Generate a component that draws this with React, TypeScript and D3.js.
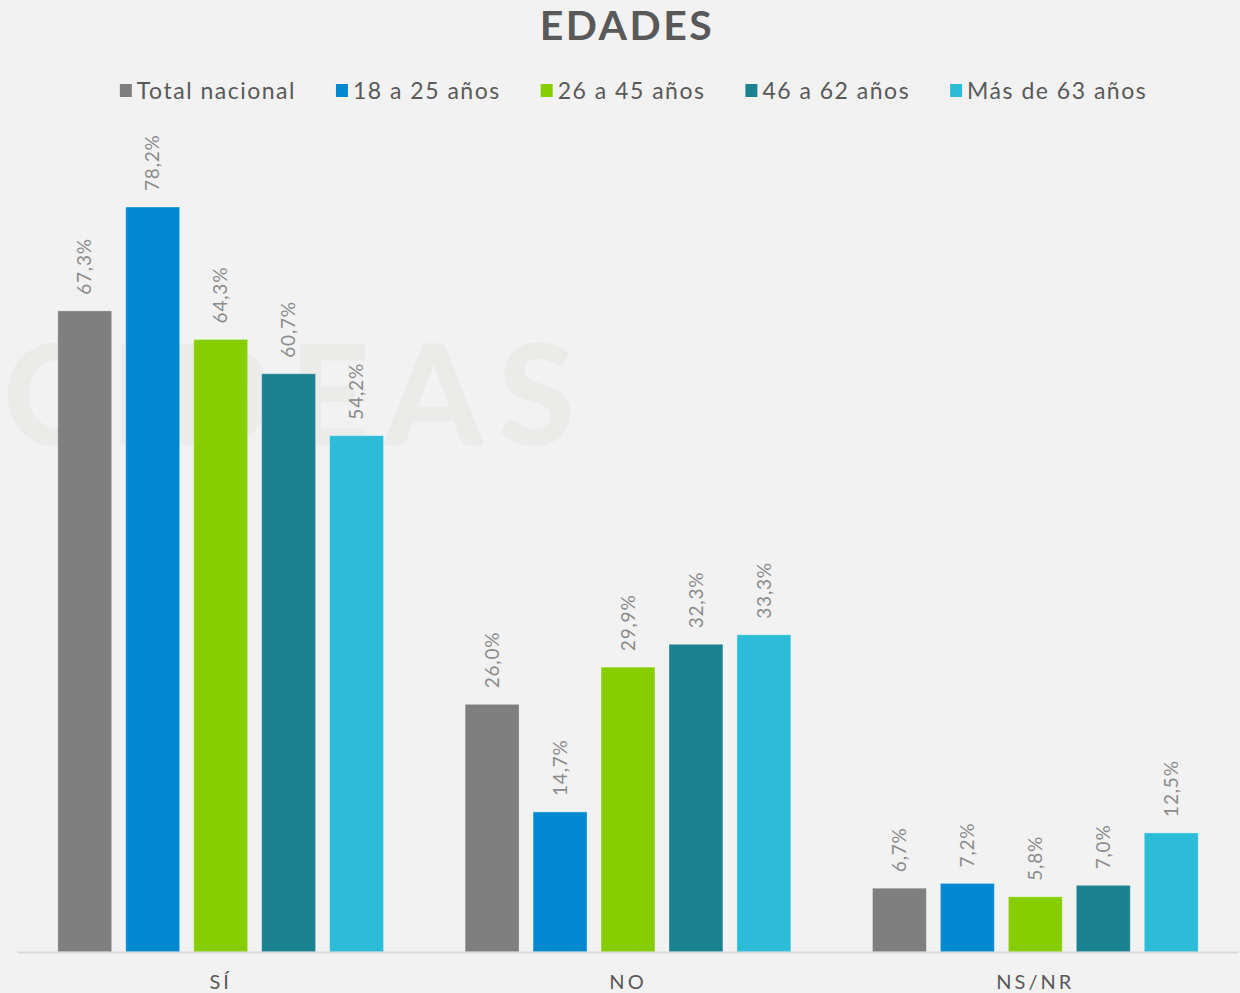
import React, { useEffect, useRef } from 'react'
import { select, scaleBand, scaleLinear } from 'd3'

const categories = ['SÍ', 'NO', 'NS/NR']
const seriesNames = ['Total nacional', '18 a 25 años', '26 a 45 años', '46 a 62 años', 'Más de 63 años']
const seriesColors = ['#7f7f7f', '#0089d1', '#86ce00', '#1c8190', '#2cbcd8']

const totalNacional = [67.3, 26.0, 6.7]
const edad18a25 = [78.2, 14.7, 7.2]
const edad26a45 = [64.3, 29.9, 5.8]
const edad46a62 = [60.7, 32.3, 7.0]
const edadMas63 = [54.2, 33.3, 12.5]

const seriesValues = [totalNacional, edad18a25, edad26a45, edad46a62, edadMas63]

const W = 1240
const H = 993
const FONT = "'Lato', 'Open Sans', sans-serif"

export default function App() {
  const svgRef = useRef<SVGSVGElement>(null)

  useEffect(() => {
    const svg = select(svgRef.current)
    svg.selectAll('*').remove()

    svg.append('rect').attr('width', W).attr('height', H).attr('fill', '#f2f2f2')

    // faint watermark behind the bars
    svg.append('text')
      .attr('x', 590).attr('y', 445)
      .attr('text-anchor', 'end')
      .attr('font-family', FONT)
      .attr('font-weight', 900)
      .attr('font-size', 140)
      .attr('letter-spacing', 15)
      .attr('fill', '#ebebe9')
      .text('CIDEAS')

    const baseY = 952
    const x0 = scaleBand().domain(categories).range([17, 1239]).padding(0)
    const x1 = scaleBand()
      .domain(seriesNames)
      .range([0, x0.bandwidth()])
      .paddingInner(0.206)
      .paddingOuter(0.6)
    const y = scaleLinear().domain([0, 90]).range([baseY, baseY - 857.4])

    const groups = svg.selectAll('.grp')
      .data(categories)
      .join('g')
      .attr('class', 'grp')
      .attr('transform', d => `translate(${x0(d)},0)`)

    groups.each(function (cat, ci) {
      const g = select(this)
      seriesNames.forEach((name, si) => {
        const v = seriesValues[si][ci]
        const bx = x1(name) as number
        g.append('rect')
          .attr('x', bx)
          .attr('y', y(v))
          .attr('width', x1.bandwidth())
          .attr('height', baseY - y(v))
          .attr('fill', seriesColors[si])
          .attr('stroke', 'rgba(255,255,255,0.35)')
          .attr('stroke-width', 1)
        const cx = bx + x1.bandwidth() / 2
        const ty = y(v) - 16
        g.append('text')
          .attr('transform', `translate(${cx},${ty}) rotate(-90)`)
          .attr('dy', '0.35em')
          .attr('font-family', FONT)
          .attr('font-size', 19)
          .attr('letter-spacing', 0.8)
          .attr('fill', '#8c8c8c')
          .text(v.toFixed(1).replace('.', ',') + '%')
      })
    })

    // baseline
    svg.append('line')
      .attr('x1', 17).attr('x2', 1239)
      .attr('y1', baseY + 0.5).attr('y2', baseY + 0.5)
      .attr('stroke', '#d9d9d9').attr('stroke-width', 2)

    svg.selectAll('.cat')
      .data(categories)
      .join('text')
      .attr('class', 'cat')
      .attr('x', d => (x0(d) as number) + x0.bandwidth() / 2)
      .attr('y', 989)
      .attr('text-anchor', 'middle')
      .attr('font-family', FONT)
      .attr('font-size', 20)
      .attr('letter-spacing', 3)
      .attr('fill', '#595959')
      .text(d => d)

    svg.append('text')
      .attr('x', 627).attr('y', 40)
      .attr('text-anchor', 'middle')
      .attr('font-family', FONT)
      .attr('font-weight', 700)
      .attr('font-size', 41)
      .attr('letter-spacing', 2.5)
      .attr('fill', '#595959')
      .text('EDADES')

    // legend, laid out by measured text widths
    const legend = svg.append('g')
    let cursor = 0
    seriesNames.forEach((name, i) => {
      legend.append('rect')
        .attr('x', cursor).attr('y', 84)
        .attr('width', 12).attr('height', 13)
        .attr('fill', seriesColors[i])
      const t = legend.append('text')
        .attr('x', cursor + 17).attr('y', 99)
        .attr('font-family', FONT)
        .attr('font-size', 23)
        .attr('letter-spacing', 1.5)
        .attr('fill', '#595959')
        .text(name)
      const len = (t.node() as SVGTextElement).getComputedTextLength()
      cursor += 17 + len + 40
    })
    const total = cursor - 40
    legend.attr('transform', `translate(${(120 + 1147) / 2 - total / 2},0)`)
  }, [])

  return (
    <div style={{ position: 'absolute', left: 0, top: 0 }}>
      <svg ref={svgRef} width={W} height={H} style={{ display: 'block' }} />
    </div>
  )
}
